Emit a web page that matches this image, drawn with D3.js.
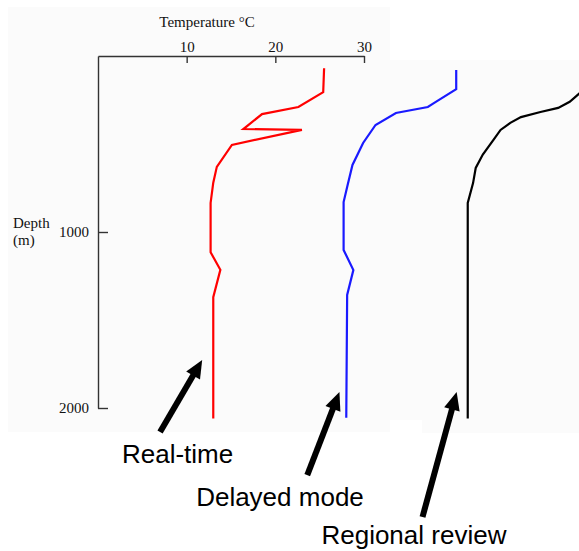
<!DOCTYPE html>
<html>
<head>
<meta charset="utf-8">
<script src="https://cdn.jsdelivr.net/npm/d3@7"></script>
<style>
  body { margin: 0; background: #fff; }
  svg { display: block; }
</style>
</head>
<body>
<div class="profile_chart"></div>
<script>
// depth (m) and temperature (°C)
const realDepth = [70, 205, 290, 330, 415, 420, 505, 630, 720, 835, 1115, 1215, 1370, 2060];
const realTemp  = [25.5, 25.4, 22.6, 18.5, 16.4, 23.0, 15.1, 13.4, 13.0, 12.7, 12.7, 13.8, 13.0, 13.0];

const delayedDepth = [80, 188, 261, 290, 324, 392, 494, 619, 744, 830, 1102, 1216, 1358, 2055];
const delayedTemp  = [25.4, 25.4, 23.1, 22.2, 18.6, 16.3, 14.9, 13.7, 13.1, 12.7, 12.7, 13.8, 13.1, 13.0];

const regionalDepth = [80, 190, 210, 260, 295, 318, 347, 380, 420, 477, 560, 636, 722, 835, 2060];
const regionalTemp  = [25.4, 25.4, 24.35, 23.2, 21.9, 19.9, 17.7, 16.5, 15.4, 14.6, 13.4, 12.6, 12.3, 11.7, 11.7];

const tempTicks = [10, 20, 30];
const depthTicks = [1000, 2000];

// labels and arrows, placed in axis units
const labelNames = ['Real-time', 'Delayed mode', 'Regional review'];
const labelTemp  = [2.7, 11.07, 25.2];
const labelDepth = [2312, 2557, 2770];
const arrowTipTemp   = [11.75, 27.23, 40.45];
const arrowTipDepth  = [1727, 1909, 1909];
const arrowTailTemp  = [7.0, 23.6, 36.6];
const arrowTailDepth = [2136, 2381, 2619];

const width = 579, height = 551;
const panelShift = [0, 15, 30];   // each profile is drawn further right
const colors = ['#ff0000', '#1a1aff', '#000000'];

const svg = d3.select('.profile_chart')
    .append('svg')
    .attr('width', width)
    .attr('height', height);

// faint grey of the pasted plot images
svg.append('rect').attr('x', 8).attr('y', 7).attr('width', 382).attr('height', 425).attr('fill', '#fbfbfb');
svg.append('rect').attr('x', 390).attr('y', 60).attr('width', 189).attr('height', 360).attr('fill', '#fbfbfb');
svg.append('rect').attr('x', 422).attr('y', 420).attr('width', 157).attr('height', 13).attr('fill', '#fbfbfb');

const x = d3.scaleLinear().domain([0, 30]).range([98, 364]);
const y = d3.scaleLinear().domain([0, 2000]).range([56, 408]);

const serif = '"Liberation Serif", "Times New Roman", serif';

const xAxis = svg.append('g')
    .attr('transform', `translate(0,${y(0)})`)
    .call(d3.axisTop(x).tickValues(tempTicks).tickSizeInner(-7).tickSizeOuter(0).tickPadding(4));

const yAxis = svg.append('g')
    .attr('transform', `translate(${x(0)},0)`)
    .call(d3.axisLeft(y).tickValues(depthTicks).tickFormat(d3.format('d'))
        .tickSizeInner(-10).tickSizeOuter(0).tickPadding(9));

[xAxis, yAxis].forEach(a => {
    a.selectAll('path, line').attr('stroke', '#333').attr('stroke-width', 1.4);
    a.selectAll('text')
        .attr('fill', '#111')
        .style('font-family', serif)
        .style('font-size', '15px');
});

svg.append('text')
    .attr('x', 207)
    .attr('y', 27)
    .attr('text-anchor', 'middle')
    .style('font-family', serif)
    .style('font-size', '15px')
    .attr('fill', '#111')
    .text('Temperature °C');

const depthLabel = svg.append('text')
    .style('font-family', serif)
    .style('font-size', '15px')
    .attr('fill', '#111');
depthLabel.append('tspan').attr('x', 13).attr('y', 228).text('Depth');
depthLabel.append('tspan').attr('x', 13).attr('y', 245).text('(m)');

const profiles = [
    { depth: realDepth, temp: realTemp },
    { depth: delayedDepth, temp: delayedTemp },
    { depth: regionalDepth, temp: regionalTemp }
];

profiles.forEach((p, i) => {
    const pts = p.depth.map((d, k) => [p.temp[k] + panelShift[i], d]);
    const line = d3.line()
        .x(d => x(d[0]))
        .y(d => y(d[1]));
    svg.append('path')
        .datum(pts)
        .attr('d', line)
        .attr('fill', 'none')
        .attr('stroke', colors[i])
        .attr('stroke-width', 2.2)
        .attr('stroke-linejoin', 'miter');
});

// annotation arrows
const headLen = 18, headHalf = 8;
labelNames.forEach((name, i) => {
    const tx = x(arrowTipTemp[i]), ty = y(arrowTipDepth[i]);
    const sx = x(arrowTailTemp[i]), sy = y(arrowTailDepth[i]);
    const len = Math.hypot(tx - sx, ty - sy);
    const ux = (tx - sx) / len, uy = (ty - sy) / len;
    const bx = tx - ux * headLen, by = ty - uy * headLen;

    svg.append('line')
        .attr('x1', sx).attr('y1', sy)
        .attr('x2', bx + ux * 2).attr('y2', by + uy * 2)
        .attr('stroke', '#000')
        .attr('stroke-width', 6);

    svg.append('polygon')
        .attr('points', [
            [tx, ty],
            [bx - uy * headHalf, by + ux * headHalf],
            [bx + uy * headHalf, by - ux * headHalf]
        ].map(d => d.join(',')).join(' '))
        .attr('fill', '#000');

    svg.append('text')
        .attr('x', x(labelTemp[i]))
        .attr('y', y(labelDepth[i]))
        .style('font-family', '"Liberation Sans", Arial, sans-serif')
        .style('font-size', '26px')
        .attr('fill', '#000')
        .text(name);
});
</script>
</body>
</html>
